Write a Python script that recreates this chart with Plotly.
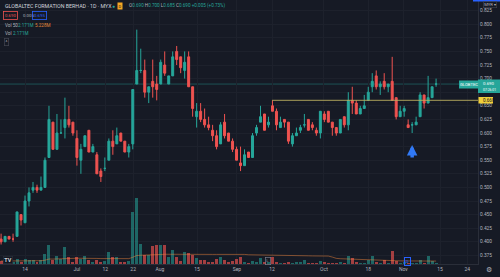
import plotly.graph_objects as go
import pandas as pd

# ---------------- data ----------------
opens = [0.405,0.400,0.410,0.405,0.410,0.450,0.435,0.475,0.495,0.500,
         0.495,0.500,0.555,0.620,0.570,0.600,0.610,0.625,0.620,0.590,
         0.550,0.575,0.605,0.565,0.560,0.530,0.535,0.550,0.585,0.580,
         0.600,0.585,0.565,0.580,0.690,0.715,0.715,0.675,0.695,0.690,
         0.690,0.725,0.690,0.705,0.750,0.740,0.715,0.740,0.685,0.630,
         0.640,0.625,0.615,0.605,0.595,0.580,0.620,0.600,0.585,0.570,
         0.545,0.540,0.565,0.555,0.600,0.620,0.635,0.615,0.650,0.640,
         0.610,0.625,0.620,0.580,0.595,0.605,0.615,0.625,0.615,0.605,
         0.600,0.635,0.640,0.620,0.610,0.600,0.630,0.615,0.660,0.655,
         0.635,0.645,0.660,0.685,0.705,0.685,0.695,0.685,0.695,0.665,
         0.630,0.640,0.615,0.615,0.615,0.630,0.670,0.655,0.665,0.690]
highs = [0.415,0.410,0.410,0.415,0.455,0.450,0.485,0.500,0.510,0.505,
         0.520,0.555,0.650,0.620,0.635,0.625,0.665,0.650,0.620,0.605,
         0.580,0.595,0.605,0.580,0.565,0.535,0.555,0.590,0.605,0.610,
         0.600,0.585,0.580,0.680,0.790,0.755,0.735,0.685,0.735,0.705,
         0.735,0.750,0.705,0.750,0.760,0.740,0.750,0.750,0.685,0.655,
         0.655,0.645,0.630,0.615,0.605,0.620,0.635,0.600,0.590,0.575,
         0.575,0.570,0.565,0.600,0.615,0.650,0.635,0.630,0.660,0.645,
         0.630,0.625,0.620,0.600,0.610,0.615,0.635,0.625,0.620,0.610,
         0.640,0.640,0.640,0.620,0.610,0.625,0.630,0.675,0.685,0.660,
         0.650,0.670,0.685,0.710,0.715,0.695,0.710,0.690,0.740,0.665,
         0.650,0.650,0.625,0.620,0.630,0.675,0.670,0.705,0.685,0.700]
lows = [0.395,0.400,0.405,0.400,0.410,0.430,0.435,0.465,0.490,0.490,
        0.495,0.500,0.555,0.570,0.570,0.600,0.590,0.610,0.595,0.540,
        0.525,0.575,0.565,0.565,0.525,0.510,0.530,0.550,0.560,0.580,
        0.585,0.565,0.555,0.570,0.690,0.710,0.665,0.655,0.665,0.660,
        0.690,0.705,0.690,0.705,0.725,0.710,0.700,0.685,0.630,0.610,
        0.620,0.610,0.605,0.585,0.570,0.580,0.590,0.585,0.565,0.550,
        0.530,0.540,0.555,0.555,0.595,0.620,0.605,0.610,0.640,0.605,
        0.610,0.610,0.580,0.575,0.595,0.600,0.610,0.605,0.605,0.595,
        0.590,0.620,0.620,0.595,0.595,0.600,0.610,0.605,0.635,0.635,
        0.635,0.645,0.660,0.675,0.680,0.670,0.680,0.675,0.660,0.625,
        0.630,0.630,0.610,0.600,0.615,0.630,0.645,0.655,0.665,0.685]
closes = [0.400,0.410,0.405,0.405,0.455,0.440,0.475,0.490,0.500,0.495,
          0.500,0.550,0.625,0.570,0.600,0.600,0.625,0.615,0.600,0.555,
          0.570,0.595,0.565,0.575,0.525,0.520,0.535,0.585,0.575,0.595,
          0.585,0.565,0.575,0.680,0.715,0.715,0.675,0.685,0.685,0.680,
          0.730,0.710,0.705,0.740,0.735,0.720,0.730,0.685,0.645,0.640,
          0.625,0.615,0.610,0.595,0.575,0.615,0.595,0.585,0.570,0.550,
          0.540,0.560,0.555,0.595,0.610,0.630,0.605,0.620,0.640,0.615,
          0.620,0.620,0.585,0.595,0.600,0.610,0.615,0.605,0.610,0.600,
          0.640,0.625,0.620,0.610,0.600,0.625,0.615,0.660,0.655,0.635,
          0.645,0.650,0.675,0.695,0.685,0.690,0.685,0.690,0.660,0.630,
          0.640,0.645,0.610,0.615,0.620,0.670,0.655,0.665,0.685,0.690]
volumes_m = [6.9,6.9,4.6,4.6,11.5,3.9,10.8,9.2,9.2,5.3,
             9.2,22.3,44.4,9.2,18.4,11.5,39.8,15.4,5.3,16.8,
             11.5,18.4,9.2,5.3,9.2,5.3,6.2,26.9,16.8,16.8,
             3.9,5.3,7.6,120.3,151.8,46.0,20.7,20.7,42.1,43.7,
             43.7,43.7,15.4,32.2,16.8,7.6,26.9,24.6,20.7,13.1,
             9.2,9.2,5.3,5.3,11.5,15.4,9.2,3.9,7.6,11.5,
             15.4,5.3,3.0,7.6,4.6,13.1,3.9,4.6,16.8,5.3,
             3.0,3.0,4.6,3.0,3.9,5.3,9.2,3.0,3.0,3.0,
             7.6,4.6,3.0,3.0,3.0,5.3,3.0,18.4,13.8,5.3,
             3.0,3.0,9.2,18.4,5.3,3.0,9.2,3.0,29.2,7.6,
             3.0,4.6,3.0,1.6,3.0,9.2,3.0,18.4,7.6,2.171]

tick_pos = [6.0, 19.0, 26.1, 33.1, 39.8, 49.1, 59.1, 67.9, 80.9, 92.0, 100.8, 110.0, 116.8]
tick_text = ["14", "Jul", "12", "22", "Aug", "15", "Sep", "12", "Oct", "18", "Nov", "15", "24"]
price_ticks = [0.375, 0.400, 0.425, 0.450, 0.475, 0.500, 0.525, 0.550, 0.575, 0.600,
               0.625, 0.650, 0.675, 0.700, 0.725, 0.750, 0.775, 0.800, 0.825]
# 0.675 sits under the last-price label in the reference, so its text is hidden
price_tick_text = ["" if abs(p - 0.675) < 1e-9 else f"{p:.3f}" for p in price_ticks]

last_price = 0.690
ray_price = 0.660
ray_start = 67.9
arrow_idx = 103
arrow_price = 0.578

# ---------------- layout constants ----------------
W, H = 500, 277
ML, MR, MT, MB = 0, 22, 0, 13
PW, PH = W - ML - MR, H - MT - MB
BG = "#161a25"
GRID = "#1d212c"
TXT = "#b2b5be"
UP = "#26a69a"
DN = "#ef5350"
FONT = "Roboto"

def X(px):
    return (px - ML) / PW

def Y(py):
    return 1 - (py - MT) / PH

idx = list(range(len(opens)))
vol_ma = pd.Series(volumes_m).rolling(50, min_periods=1).mean()
vol_colors = ["rgba(38,166,154,0.55)" if c >= o else "rgba(239,83,80,0.65)"
              for o, c in zip(opens, closes)]

fig = go.Figure()
fig.add_trace(go.Bar(x=idx, y=volumes_m, marker=dict(color=vol_colors, line=dict(width=0)),
                     width=0.75, yaxis="y2", hoverinfo="skip", showlegend=False))
fig.add_trace(go.Scatter(x=idx, y=vol_ma, mode="lines", yaxis="y2",
                         line=dict(color="rgba(255,140,60,0.45)", width=1),
                         hoverinfo="skip", showlegend=False))
fig.add_trace(go.Candlestick(x=idx, open=opens, high=highs, low=lows, close=closes,
                             increasing=dict(line=dict(color=UP, width=1), fillcolor=UP),
                             decreasing=dict(line=dict(color=DN, width=1), fillcolor=DN),
                             whiskerwidth=0, hoverinfo="skip", showlegend=False))

shapes = [
    dict(type="line", xref="paper", x0=0, x1=1, yref="y", y0=last_price, y1=last_price,
         line=dict(color="rgba(38,166,154,0.4)", width=1), layer="below"),
    dict(type="line", xref="x", x0=ray_start, x1=119.5, yref="y", y0=ray_price, y1=ray_price,
         line=dict(color="rgba(190,178,95,0.7)", width=1.2)),
    dict(type="rect", xref="paper", yref="paper", x0=X(473), x1=X(500), y0=Y(0), y1=Y(1.5),
         fillcolor="#2962ff", line=dict(width=0)),
    # GLOBTEC label + price label
    dict(type="rect", xref="paper", yref="paper", x0=X(459), x1=X(478), y0=Y(80.5), y1=Y(88.5),
         fillcolor=UP, line=dict(width=0)),
    dict(type="rect", xref="paper", yref="paper", x0=X(478), x1=X(500), y0=Y(79.5), y1=Y(93),
         fillcolor=UP, line=dict(width=0)),
    dict(type="rect", xref="paper", yref="paper", x0=X(478.5), x1=X(493), y0=Y(97), y1=Y(103.5),
         fillcolor="#f2d03b", line=dict(width=0)),
]

ann = []
def txt(px, py, s, color=TXT, size=5.2, anchor="left", **kw):
    ann.append(dict(xref="paper", yref="paper", x=X(px), y=Y(py), text=s, showarrow=False,
                    xanchor=anchor, yanchor="middle",
                    font=dict(family=FONT, size=size, color=color), **kw))

# header
txt(3, 6, "GLOBALTEC FORMATION BERHAD · 1D · MYX", color="#d1d4dc", size=5.3)
txt(113, 6, "●", color=UP, size=5, anchor="center")
txt(120, 6, "D", color="#161a25", size=4, anchor="center", bgcolor="#f5a623", borderpad=0.5)
ohlc = ("O<span style='color:#26a69a'>0.690</span> H<span style='color:#26a69a'>0.700</span> "
        "L<span style='color:#26a69a'>0.685</span> C<span style='color:#26a69a'>0.690</span> "
        "<span style='color:#26a69a'>+0.005 (+0.73%)</span>")
txt(127, 6, ohlc, color=TXT, size=4.6)
txt(3, 15.5, "0.690", color=DN, size=4.3, bordercolor=DN, borderwidth=0.8, borderpad=1.2)
txt(21, 15.5, "0.005", color=TXT, size=4.3)
txt(32, 15.5, "0.695", color="#2962ff", size=4.3, bordercolor="#2962ff", borderwidth=0.8, borderpad=1.2)
txt(3, 25, "Vol 50", color=TXT, size=4.6)
txt(16, 25, "2.171M", color=UP, size=4.6)
txt(33, 25, "5.228M", color="#e0883a", size=4.6)
txt(3, 33, "Vol", color=TXT, size=4.6)
txt(11, 33, "2.171M", color=UP, size=4.6)
txt(3.5, 41.5, "^", color=TXT, size=4.5, bordercolor="#434651", borderwidth=0.7, borderpad=0.8)

# right axis labels
txt(483, 5, "MYR ▾", color=TXT, size=4.2, bordercolor="#434651", borderwidth=0.6, borderpad=0.6)
txt(468.5, 84.5, "GLOBTEC", color="white", size=4.2, anchor="center")
txt(481, 83, "0.690", color="white", size=4.4)
txt(481, 90, "07:26:01", color="white", size=3.4)
txt(481, 100.3, "0.660", color="#131722", size=4.6)

# bottom icons
txt(8, 260, "<b>TV</b>", color="#d1d4dc", size=5.5, anchor="center", bgcolor="#131722",
    bordercolor="#2a2e39", borderwidth=0.7, borderpad=0.5)
txt(268, 260.5, "L", color="#9598a1", size=4.3, anchor="center", bordercolor="#787b86",
    borderwidth=0.7, borderpad=0.6)
txt(407, 261.5, "D", color="#2962ff", size=4.3, anchor="center", bordercolor="#2962ff",
    borderwidth=1, borderpad=0.8)
txt(489, 269.5, "⚙", color=TXT, size=7, anchor="center")

# blue arrow (drawing)
ann.append(dict(x=arrow_idx, y=arrow_price, xref="x", yref="y", ax=0, ay=14,
                showarrow=True, arrowhead=2, arrowsize=0.6, arrowwidth=3.5,
                arrowcolor="#3179f5", text=""))

fig.update_layout(
    width=W, height=H, margin=dict(l=ML, r=MR, t=MT, b=MB),
    paper_bgcolor=BG, plot_bgcolor=BG,
    font=dict(family=FONT, size=5, color=TXT),
    showlegend=False, bargap=0,
    shapes=shapes, annotations=ann,
    xaxis=dict(range=[-0.27, 119.5], tickvals=tick_pos, ticktext=tick_text,
               showgrid=True, gridcolor=GRID, gridwidth=1, zeroline=False,
               showline=True, linecolor="#2a2e39", linewidth=1,
               ticks="", tickfont=dict(size=5, color=TXT), rangeslider=dict(visible=False),
               fixedrange=True),
    yaxis=dict(range=[0.3592, 0.8445], side="right", tickvals=price_ticks,
               ticktext=price_tick_text,
               showgrid=True, gridcolor=GRID, gridwidth=1, zeroline=False,
               showline=True, linecolor="#2a2e39", linewidth=1,
               ticks="", tickfont=dict(size=4.8, color=TXT), fixedrange=True),
    yaxis2=dict(range=[0, 607], overlaying="y", visible=False, fixedrange=True),
)

fig.write_html("out.html")
